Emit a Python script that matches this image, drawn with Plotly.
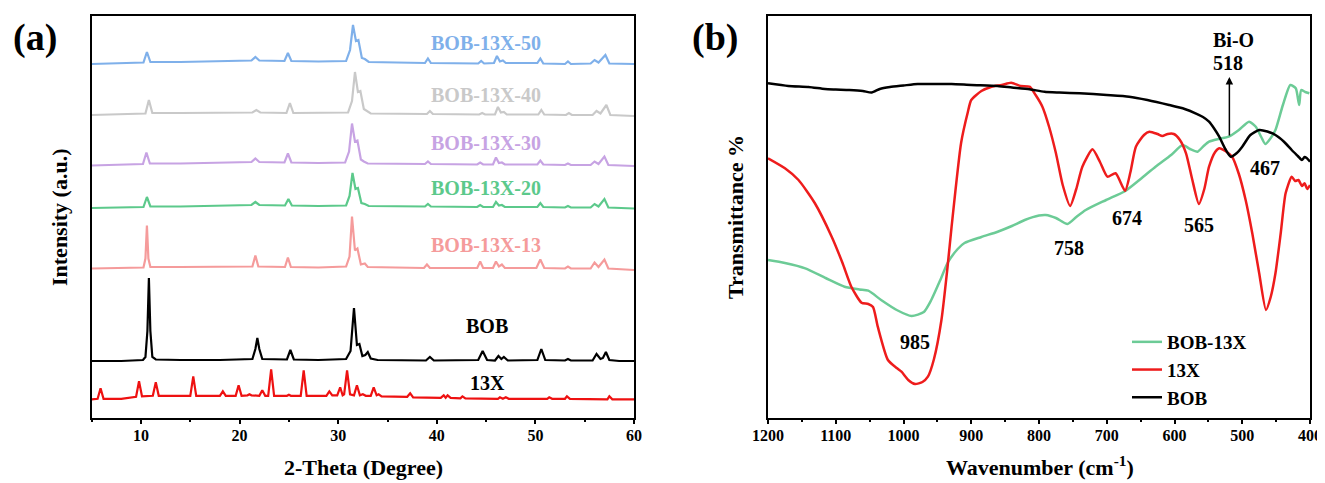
import plotly.graph_objects as go

# ---------------- (a) XRD data: (2-theta, intensity above own baseline, a.u.) ----------------
xrd_13x = [(5, 0), (5.6, 0.5), (5.9, 11), (6.2, 0.5), (8, 0.5), (9.0, 1.5), (9.5, 2.5), (9.8, 18), (10.1, 3),
           (11.2, 3.5), (11.5, 17), (11.8, 3.5), (13, 3.5), (15.0, 3.5), (15.3, 23), (15.6, 3.5), (18.0, 3.5),
           (18.3, 8), (18.6, 3.5), (19.6, 3.5), (19.9, 14), (20.2, 3.5), (20.8, 4), (21.0, 5), (21.2, 4),
           (22.0, 3.5), (22.3, 9), (22.6, 3.5), (22.9, 3.5), (23.2, 30), (23.5, 3.5), (24.8, 3.5), (25.0, 4.5),
           (25.2, 3.5), (26.2, 3.5), (26.5, 29), (26.8, 3.5), (28.8, 3.5), (29.1, 8), (29.4, 4), (29.9, 4),
           (30.2, 12), (30.45, 4), (30.6, 5), (30.9, 29), (31.2, 5), (31.6, 4), (31.9, 14), (32.2, 4), (32.5, 5),
           (32.8, 3.5), (33.3, 3.5), (33.6, 12), (33.9, 4), (34.1, 5), (34.4, 3), (37.0, 2.5), (37.3, 6), (37.6, 2),
           (40.4, 1.5), (40.7, 4), (40.9, 1.5), (41.1, 4), (41.4, 1.5), (42.4, 1), (42.6, 3), (42.9, 1),
           (46.2, 0.5), (46.4, 2), (46.7, 0.5), (47.0, 2), (47.3, 0.5), (51.2, 0.5), (51.4, 2), (51.7, 0.5),
           (53.0, 0.5), (53.2, 3), (53.5, 0.5), (57.3, 0), (57.5, 3), (57.8, 0), (60, 0)]

xrd_bob = [(5, 0), (8, 0), (10.2, 1), (10.45, 4), (10.65, 30), (10.8, 83), (10.95, 30), (11.15, 4), (11.5, 1.5),
           (14, 1), (18, 1), (21.3, 2), (21.6, 12), (21.8, 23), (22.0, 12), (22.3, 2), (24.8, 1.5), (25.15, 11),
           (25.5, 1.5), (28, 1), (30.8, 2), (31.25, 10), (31.6, 53), (31.9, 16), (32.15, 17), (32.45, 5),
           (32.75, 6), (33.0, 9), (33.3, 2.5), (34, 1), (38.9, 0.5), (39.3, 4), (39.7, 0.5), (44.2, 1),
           (44.65, 10), (45.1, 1), (45.9, 0.5), (46.25, 5), (46.55, 2), (46.8, 4), (47.2, 0.5), (50.2, 1),
           (50.6, 12), (51.0, 1), (53.0, 0.5), (53.3, 2), (53.6, 0.5), (55.8, 0.5), (56.2, 7), (56.6, 2),
           (56.85, 3), (57.15, 9), (57.5, 1), (58.5, 0), (60, 0)]

xrd_bob13x_13 = [(5, 0), (8, 0.5), (10.25, 1), (10.45, 10), (10.6, 43), (10.75, 10), (10.95, 1.5), (14, 1.5),
                 (19, 2), (21.3, 2), (21.6, 13), (21.9, 2), (24.6, 1.5), (24.9, 11), (25.2, 1.5), (28, 1),
                 (30.8, 2), (31.15, 12), (31.4, 52), (31.7, 18), (31.95, 20), (32.3, 4), (32.7, 5), (33.0, 1.5),
                 (38.7, 0.5), (39.0, 4), (39.3, 0.5), (44.1, 0.5), (44.4, 7), (44.7, 0.5), (45.7, 0.5),
                 (46.0, 7), (46.3, 2), (46.6, 4), (46.9, 0.5), (50.1, 0.5), (50.5, 9), (50.9, 0.5), (53.0, 0),
                 (53.3, 2), (53.6, 0), (55.6, 0), (56.0, 6), (56.4, 1.5), (57.0, 9), (57.4, 0), (60, -1.5)]

xrd_bob13x_20 = [(5, 0), (8, 0.5), (10.25, 1), (10.6, 11), (10.95, 1.5), (14, 1.5), (18, 2.5), (21.2, 3),
                 (21.6, 6), (22.0, 3), (24.6, 2.5), (24.95, 9), (25.3, 2.5), (28, 2), (30.8, 2.5), (31.15, 12),
                 (31.45, 35), (31.75, 19), (32.0, 20), (32.35, 5), (32.7, 4), (33.1, 2), (38.8, 1.5), (39.1, 4),
                 (39.4, 1.5), (44.1, 1), (44.4, 3), (44.7, 1), (45.7, 1), (46.0, 6), (46.3, 2.5), (46.6, 3),
                 (46.9, 1), (50.2, 1), (50.5, 5), (50.8, 1), (53.0, 0.5), (53.3, 2), (53.6, 0.5), (55.6, 0.5),
                 (56.0, 4), (56.4, 1.5), (57.0, 9), (57.4, 0.5), (60, -0.5)]

xrd_bob13x_30 = [(5, 0), (8, 0.5), (10.2, 1.5), (10.55, 13), (10.9, 2), (14, 2), (18, 2.5), (21.2, 3.5),
                 (21.6, 7), (22.0, 3.5), (24.55, 3), (24.9, 12), (25.25, 3), (28, 2.5), (30.7, 3), (31.1, 14),
                 (31.4, 42), (31.7, 24), (31.95, 25), (32.3, 6), (32.6, 4), (33.0, 2), (38.8, 1.5), (39.1, 4),
                 (39.4, 1.5), (44.1, 1), (44.4, 3), (44.7, 1), (45.7, 1), (46.0, 8), (46.3, 2.5), (46.6, 3),
                 (46.9, 1), (50.2, 1), (50.5, 5), (50.8, 1), (53.0, 0.5), (53.3, 2), (53.6, 0.5), (55.6, 0.5),
                 (56.0, 4), (56.4, 1.5), (57.0, 9), (57.4, 0.5), (60, -0.5)]

xrd_bob13x_40 = [(5, 0), (8, 0.5), (10.45, 1.5), (10.8, 15), (11.15, 2), (14, 2), (18, 2), (21.3, 2.5),
                 (21.7, 5), (22.1, 2.5), (24.75, 2), (25.1, 12), (25.45, 2), (28, 2), (31.0, 2.5), (31.4, 14),
                 (31.7, 43), (32.0, 23), (32.25, 24), (32.6, 6), (32.9, 4), (33.3, 1.5), (39.0, 1), (39.3, 4),
                 (39.6, 1), (44.3, 0.5), (44.6, 2), (44.9, 0.5), (45.9, 0.5), (46.2, 8), (46.5, 2.5), (46.8, 3),
                 (47.1, 0.5), (50.3, 0.5), (50.6, 5), (50.9, 0.5), (53.1, 0), (53.4, 2), (53.7, 0), (55.8, 0),
                 (56.2, 4), (56.6, 1.5), (57.2, 10), (57.6, 0), (60, -1)]

xrd_bob13x_50 = [(5, 0), (8, 0.5), (10.25, 1.5), (10.6, 12), (10.95, 2), (14, 2), (18, 3), (21.2, 3.5),
                 (21.6, 7), (22.0, 3.5), (24.55, 3), (24.9, 11), (25.25, 3), (28, 2.5), (30.8, 3), (31.2, 14),
                 (31.5, 39), (31.8, 23), (32.05, 24), (32.4, 6), (32.7, 5), (33.1, 2), (38.8, 1), (39.1, 5.5),
                 (39.4, 1), (44.2, 0.5), (44.5, 3), (44.8, 0.5), (45.8, 1), (46.1, 8), (46.4, 2.5), (46.7, 3.5),
                 (47.0, 1), (50.2, 1), (50.5, 5.5), (50.8, 0.5), (53.0, 0), (53.3, 2.5), (53.6, 0), (55.6, 0.5),
                 (56.0, 4), (56.4, 1.5), (57.1, 9), (57.5, 0.5), (60, 0)]

xrd_names = ["13X", "BOB", "BOB-13X-13", "BOB-13X-20", "BOB-13X-30", "BOB-13X-40", "BOB-13X-50"]
xrd_series = [xrd_13x, xrd_bob, xrd_bob13x_13, xrd_bob13x_20, xrd_bob13x_30, xrd_bob13x_40, xrd_bob13x_50]
xrd_stack_offsets = [18.7, 57, 149.5, 210, 252.5, 303, 354]
xrd_colors = ["#ee1111", "#000000", "#f59b9b", "#5cc98b", "#c7a3e3", "#c9c9c9", "#7fb0ea"]
xrd_label_colors = ["#000000", "#000000", "#f59b9b", "#5cc98b", "#c7a3e3", "#c9c9c9", "#7fb0ea"]
xrd_label_pos = [(45.1, 34.7), (45.1, 92.3), (45.0, 173), (45.0, 229.7), (45.0, 275.3), (45.0, 323), (45.0, 375.3)]

# ---------------- (b) FTIR data: (wavenumber, transmittance a.u.) ----------------
ftir_bob13x = [(1200, 157), (1175, 154), (1145, 148.7), (1115, 139), (1087, 130.3), (1065, 127.5), (1052, 126.3),
               (1033, 117), (1010, 107), (988, 101), (970, 105), (959, 117), (945, 138), (935, 154), (920, 168),
               (910, 174), (885, 180), (861, 185.3), (840, 191), (821, 197), (800, 201.5), (790, 202), (775, 199),
               (758, 193), (745, 200), (731, 207), (701, 217), (672, 226.3), (650, 238), (628, 250.3), (605, 262),
               (588, 272), (577, 268), (566, 265.3), (557, 271), (549, 275.3), (535, 278), (520, 280.3),
               (505, 287), (490, 295.3), (480, 290.3), (472, 280), (466, 273), (458, 279), (451, 287),
               (440, 312), (429, 332), (421, 328.7), (416, 312), (413, 327), (407, 325), (401, 323.7)]

ftir_13x = [(1200, 258.7), (1175, 248.7), (1155, 237), (1131, 214), (1106, 180.3), (1090, 154), (1077, 130.3),
            (1062, 114.3), (1052, 113), (1045, 110), (1038, 90.3), (1023, 57), (1010, 49), (1003, 45.3),
            (993, 37), (983, 33), (972, 35), (964, 40.3), (955, 58), (944, 97), (935, 150), (929, 190.3),
            (915, 274), (905, 305), (900, 317), (885, 326), (870, 330.3), (855, 332), (841, 334.3), (827, 331),
            (814, 330.3), (805, 322), (795, 310.3), (785, 290), (775, 263.7), (765, 232), (754, 211), (745, 228),
            (736, 250.3), (721, 267.7), (710, 255), (699, 240.3), (687, 243.7), (673, 226.3), (665, 245),
            (657, 270.3), (645, 282), (637, 285.3), (625, 283), (618, 281), (610, 283), (601, 283), (592, 277),
            (583, 263.7), (574, 238), (564, 213), (556, 228), (549, 250.3), (540, 265), (534, 268.7),
            (525, 266), (515, 260.3), (505, 243), (495, 217), (485, 183), (475, 143.7), (465, 107), (458, 120),
            (451, 143.7), (443, 185), (436, 223.7), (427, 240.3), (422, 236), (417, 237), (412, 231),
            (408, 233.7), (404, 228), (400, 232)]

ftir_bob = [(1200, 333.7), (1170, 331), (1140, 330), (1116, 328), (1100, 327.5), (1080, 327), (1060, 326),
            (1047, 324.5), (1035, 328), (1020, 330), (1000, 331.5), (979, 333), (950, 333), (929, 333),
            (900, 332), (861, 331), (840, 329.5), (814, 327.7), (792, 325.3), (770, 324.5), (740, 323.7),
            (700, 322), (667, 320.3), (640, 317), (608, 312), (585, 308), (569, 303.7), (558, 300),
            (549, 295.3), (541, 288), (534, 280.3), (525, 268), (517, 260.3), (508, 264), (500, 270.3),
            (488, 282), (475, 287), (463, 285.5), (451, 282), (438, 275), (427, 267), (418, 261), (412, 257),
            (408, 260), (405, 259), (400, 255.3)]

ftir_names = ["BOB-13X", "13X", "BOB"]
ftir_series = [ftir_bob13x, ftir_13x, ftir_bob]
ftir_colors = ["#6ccb96", "#ee1c1c", "#000000"]

ftir_peak_labels = ["985", "758", "674", "565", "467"]
ftir_peak_label_pos = [(983, 75), (755, 169), (670, 199), (564, 192), (466, 249)]

xrd_xticks = [10, 20, 30, 40, 50, 60]
ftir_xticks = [1200, 1100, 1000, 900, 800, 700, 600, 500, 400]

# ---------------- figure ----------------
W, H = 1325, 483
OFF = 8          # page body margin the figure is drawn with
FONT = "Liberation Serif"
fig = go.Figure()

for name, ser, off, col in zip(xrd_names, xrd_series, xrd_stack_offsets, xrd_colors):
    xs = [p[0] for p in ser]
    ys = [p[1] + off for p in ser]
    fig.add_trace(go.Scatter(x=xs, y=ys, mode="lines", name=name, showlegend=False,
                             line=dict(color=col, width=2.2), xaxis="x", yaxis="y"))

for name, ser, col in zip(ftir_names, ftir_series, ftir_colors):
    xs = [p[0] for p in ser]
    ys = [p[1] for p in ser]
    fig.add_trace(go.Scatter(x=xs, y=ys, mode="lines", name=name,
                             line=dict(color=col, width=2.5, shape="spline", smoothing=0.6),
                             xaxis="x2", yaxis="y2"))

axis_common = dict(showline=True, linewidth=2, linecolor="black", mirror=True, showgrid=False,
                   zeroline=False, automargin=False)
tickfont = dict(family=FONT, size=16, color="black", weight="bold")

def px_x(p):
    return (p - OFF) / W

def paper_y(p):
    return (418 - p) / 402

fig.update_layout(
    width=W, height=H,
    margin=dict(l=0, r=0, t=16 - OFF, b=H - (418 - OFF), pad=0, autoexpand=False),
    plot_bgcolor="white", paper_bgcolor="white",
    xaxis=dict(domain=[px_x(91.7), px_x(634)], range=[5, 60], tickvals=xrd_xticks, ticks="outside", ticklen=4,
               tickwidth=1.5, tickcolor="black", tickfont=tickfont, ticklabelstandoff=-2,
               minor=dict(dtick=5, ticks="outside", ticklen=2, tickcolor="black"), **axis_common),
    yaxis=dict(range=[0, 402], showticklabels=False, ticks="", **axis_common),
    xaxis2=dict(domain=[px_x(768), px_x(1310)], range=[1200, 400], tickvals=ftir_xticks, ticks="outside",
                ticklen=4, tickwidth=1.5, tickcolor="black", tickfont=tickfont, ticklabelstandoff=-2,
                anchor="y2", minor=dict(dtick=50, ticks="outside", ticklen=2, tickcolor="black"), **axis_common),
    yaxis2=dict(range=[-1, 401], showticklabels=False, ticks="", anchor="x2", **axis_common),
    legend=dict(x=px_x(1119 + OFF), y=paper_y(323), xanchor="left", yanchor="top",
                font=dict(family=FONT, size=19, color="black", weight="bold"),
                bgcolor="rgba(0,0,0,0)", traceorder="normal"),
    showlegend=True,
)

ann = []
def text_ann(text, x, y, size, angle=0):
    return dict(text=text, x=px_x(x), y=paper_y(y), xref="paper", yref="paper", showarrow=False,
                xanchor="center", yanchor="middle", textangle=angle,
                font=dict(family=FONT, size=size, color="black", weight="bold"))

# axis titles and panel letters
ann.append(text_ann("(a)", 35, 37, 38))
ann.append(text_ann("(b)", 715, 38, 38))
ann.append(text_ann("Intensity (a.u.)", 59, 217, 22, -90))
ann.append(text_ann("2-Theta (Degree)", 364, 467, 22))
ann.append(text_ann("Transmittance %", 735, 217, 22, -90))
ann.append(text_ann("Wavenumber (cm<sup>-1</sup>)", 1040, 466, 22))

# XRD series labels
for name, (lx, ly), col in zip(xrd_names, xrd_label_pos, xrd_label_colors):
    ann.append(dict(text=name, x=lx, y=ly, xref="x", yref="y", showarrow=False,
                    xanchor="center", yanchor="middle",
                    font=dict(family=FONT, size=20, color=col, weight="bold")))

# FTIR peak labels
for t, (lx, ly) in zip(ftir_peak_labels, ftir_peak_label_pos):
    ann.append(dict(text=t, x=lx, y=ly, xref="x2", yref="y2", showarrow=False,
                    xanchor="center", yanchor="middle",
                    font=dict(family=FONT, size=20, color="black", weight="bold")))
ann.append(dict(text="518", x=521, y=354, xref="x2", yref="y2", showarrow=False,
                xanchor="center", yanchor="middle",
                font=dict(family=FONT, size=20, color="black", weight="bold")))
ann.append(dict(text="Bi-O", x=513, y=377, xref="x2", yref="y2", showarrow=False,
                xanchor="center", yanchor="middle",
                font=dict(family=FONT, size=20, color="black", weight="bold")))
ann.append(dict(text="", x=519, y=340, ax=519, ay=280, xref="x2", yref="y2", axref="x2", ayref="y2",
                showarrow=True, arrowhead=2, arrowsize=1, arrowwidth=1.5, arrowcolor="black"))

fig.update_layout(annotations=ann)
fig.write_html("out.html")
